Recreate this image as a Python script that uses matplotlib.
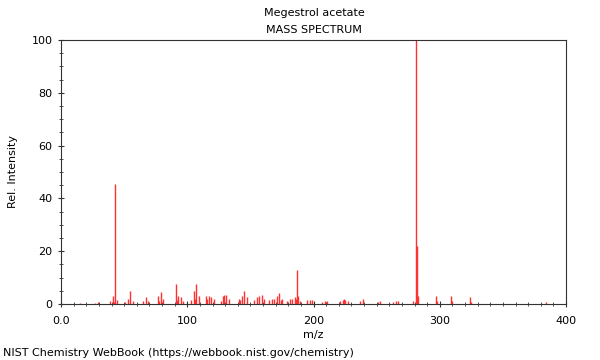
import matplotlib
matplotlib.use("Agg")
import matplotlib.pyplot as plt
from matplotlib.ticker import MultipleLocator

title = "Megestrol acetate"
subtitle = "MASS SPECTRUM"
footer = "NIST Chemistry WebBook (https://webbook.nist.gov/chemistry)"

mz = [15, 27, 29, 39, 41, 42, 43, 44, 51, 53, 55, 57, 65, 67, 69, 77, 78, 79, 81,
      91, 92, 93, 95, 97, 103, 105, 106, 107, 109, 115, 116, 117, 119, 121,
      127, 128, 129, 131, 133, 141, 142, 143, 145, 147, 153, 155, 157, 159, 161,
      165, 167, 169, 171, 173, 174, 175, 179, 181, 183, 185, 186, 187, 188, 189,
      195, 197, 199, 207, 209, 211, 221, 223, 224, 225, 227, 237, 239, 251, 253,
      263, 265, 267, 279, 281, 282, 283, 297, 298, 309, 310, 324, 325, 384]
intensity = [0.4, 0.5, 0.6, 1.0, 3.0, 0.8, 45.5, 1.5, 0.8, 2.0, 5.0, 1.0, 1.0, 2.5, 1.2,
             3.0, 1.0, 4.5, 2.0,
             7.5, 1.5, 3.0, 2.5, 1.2, 1.5, 5.0, 2.0, 7.5, 3.0, 3.0, 2.0, 3.0, 2.5, 2.0,
             1.0, 3.0, 3.5, 3.5, 2.0, 2.0, 1.5, 3.0, 5.0, 2.5, 1.5, 2.5, 3.0, 3.5, 2.0,
             1.5, 2.0, 2.0, 3.0, 4.0, 1.5, 2.0, 1.0, 2.0, 2.0, 2.5, 2.0, 13.0, 3.0, 1.0,
             1.5, 1.5, 1.5, 0.8, 1.0, 1.0, 1.0, 1.5, 2.0, 1.5, 1.0, 1.0, 2.0, 0.8, 1.0,
             0.8, 1.0, 1.0, 1.0, 100.0, 22.0, 3.0, 3.0, 1.0, 3.0, 1.0, 2.5, 0.6, 0.8]

x_ticks = [0, 100, 200, 300, 400]
x_labels = ["0.0", "100", "200", "300", "400"]
y_ticks = [0, 20, 40, 60, 80, 100]

fig = plt.figure(figsize=(6, 3.6), dpi=100)
ax = fig.add_axes([61/600, 1 - 304/360, 505/600, 264/360])
ax.vlines(mz, 0, intensity, colors="#ff3030", linewidth=1.0)

ax.set_xlim(0, 400)
ax.set_ylim(0, 100)
ax.set_xticks(x_ticks)
ax.set_xticklabels(x_labels)
ax.set_yticks(y_ticks)
ax.xaxis.set_minor_locator(MultipleLocator(10))
ax.yaxis.set_minor_locator(MultipleLocator(5))
ax.tick_params(which="major", length=5, width=0.8, labelsize=8, color="#333333", direction="inout")
ax.tick_params(axis="x", which="major", pad=6)
ax.tick_params(which="minor", length=3, width=0.6, color="#333333", direction="inout")
for s in ax.spines.values():
    s.set_color("#333333")
    s.set_linewidth(0.8)

ax.set_xlabel("m/z", fontsize=8, labelpad=3)
ax.set_ylabel("Rel. Intensity", fontsize=8, labelpad=10)
fig.text(314/600, 1 - 13/360, title, ha="center", va="center", fontsize=8)
fig.text(314/600, 1 - 30/360, subtitle, ha="center", va="center", fontsize=8)
fig.text(3/600, 1 - 353/360, footer, ha="left", va="center", fontsize=8)

fig.savefig("out.png", dpi=100)
